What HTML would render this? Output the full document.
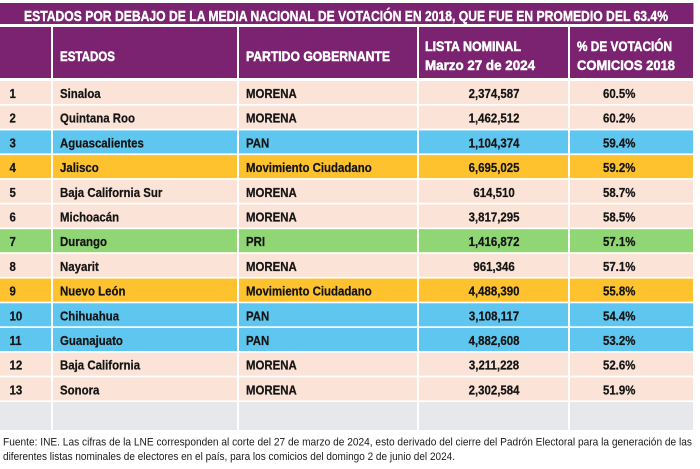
<!DOCTYPE html>
<html>
<head>
<meta charset="utf-8">
<style>
html,body{margin:0;padding:0;background:#fff;}
svg{display:block;}
text{font-family:"Liberation Sans",Arial,sans-serif;}
</style>
</head>
<body>
<svg width="700" height="469" viewBox="0 0 700 469" xmlns="http://www.w3.org/2000/svg">
<rect x="0" y="0" width="700" height="469" fill="#ffffff"/>
<!-- Title -->
<rect x="0" y="3" width="693" height="21" fill="#7b2371"/>
<rect x="693" y="3" width="1" height="21" fill="#b9a3b5"/>
<text x="24" y="21" font-size="15" font-weight="bold" fill="#ffffff" stroke="#ffffff" stroke-width="0.4" textLength="644" lengthAdjust="spacingAndGlyphs">ESTADOS POR DEBAJO DE LA MEDIA NACIONAL DE VOTACIÓN EN 2018, QUE FUE EN PROMEDIO DEL 63.4%</text>
<!-- Header -->
<g fill="#7b2371">
<rect x="0" y="27" width="51" height="51"/>
<rect x="53" y="27" width="184" height="51"/>
<rect x="239" y="27" width="178" height="51"/>
<rect x="419" y="27" width="149" height="51"/>
<rect x="570" y="27" width="123" height="51"/>
</g>
<g fill="#ffffff" stroke="#ffffff" stroke-width="0.5" font-weight="bold" font-size="14">
<text x="60" y="61" textLength="55" lengthAdjust="spacingAndGlyphs">ESTADOS</text>
<text x="246" y="61" textLength="144" lengthAdjust="spacingAndGlyphs">PARTIDO GOBERNANTE</text>
<text x="425" y="51" textLength="96" lengthAdjust="spacingAndGlyphs">LISTA NOMINAL</text>
<text x="425" y="70" textLength="110" lengthAdjust="spacingAndGlyphs">Marzo 27 de 2024</text>
<text x="577" y="51" textLength="95" lengthAdjust="spacingAndGlyphs">% DE VOTACIÓN</text>
<text x="577" y="70" textLength="98" lengthAdjust="spacingAndGlyphs">COMICIOS 2018</text>
</g>
<!-- Rows backgrounds -->
<g>
<g fill="#fbe4d7">
<rect x="0" y="81" width="51" height="23"/><rect x="53" y="81" width="184" height="23"/><rect x="239" y="81" width="178" height="23"/><rect x="419" y="81" width="149" height="23"/><rect x="570" y="81" width="123" height="23"/>
<rect x="0" y="105.7" width="51" height="23"/><rect x="53" y="105.7" width="184" height="23"/><rect x="239" y="105.7" width="178" height="23"/><rect x="419" y="105.7" width="149" height="23"/><rect x="570" y="105.7" width="123" height="23"/>
<rect x="0" y="179.8" width="51" height="23"/><rect x="53" y="179.8" width="184" height="23"/><rect x="239" y="179.8" width="178" height="23"/><rect x="419" y="179.8" width="149" height="23"/><rect x="570" y="179.8" width="123" height="23"/>
<rect x="0" y="204.5" width="51" height="23"/><rect x="53" y="204.5" width="184" height="23"/><rect x="239" y="204.5" width="178" height="23"/><rect x="419" y="204.5" width="149" height="23"/><rect x="570" y="204.5" width="123" height="23"/>
<rect x="0" y="253.9" width="51" height="23"/><rect x="53" y="253.9" width="184" height="23"/><rect x="239" y="253.9" width="178" height="23"/><rect x="419" y="253.9" width="149" height="23"/><rect x="570" y="253.9" width="123" height="23"/>
<rect x="0" y="352.7" width="51" height="23"/><rect x="53" y="352.7" width="184" height="23"/><rect x="239" y="352.7" width="178" height="23"/><rect x="419" y="352.7" width="149" height="23"/><rect x="570" y="352.7" width="123" height="23"/>
<rect x="0" y="377.4" width="51" height="23"/><rect x="53" y="377.4" width="184" height="23"/><rect x="239" y="377.4" width="178" height="23"/><rect x="419" y="377.4" width="149" height="23"/><rect x="570" y="377.4" width="123" height="23"/>
</g>
<g fill="#5fc7ef">
<rect x="0" y="130.4" width="51" height="23"/><rect x="53" y="130.4" width="184" height="23"/><rect x="239" y="130.4" width="178" height="23"/><rect x="419" y="130.4" width="149" height="23"/><rect x="570" y="130.4" width="123" height="23"/>
<rect x="0" y="303.3" width="51" height="23"/><rect x="53" y="303.3" width="184" height="23"/><rect x="239" y="303.3" width="178" height="23"/><rect x="419" y="303.3" width="149" height="23"/><rect x="570" y="303.3" width="123" height="23"/>
<rect x="0" y="328" width="51" height="23"/><rect x="53" y="328" width="184" height="23"/><rect x="239" y="328" width="178" height="23"/><rect x="419" y="328" width="149" height="23"/><rect x="570" y="328" width="123" height="23"/>
</g>
<g fill="#fec22f">
<rect x="0" y="155.1" width="51" height="23"/><rect x="53" y="155.1" width="184" height="23"/><rect x="239" y="155.1" width="178" height="23"/><rect x="419" y="155.1" width="149" height="23"/><rect x="570" y="155.1" width="123" height="23"/>
<rect x="0" y="278.6" width="51" height="23"/><rect x="53" y="278.6" width="184" height="23"/><rect x="239" y="278.6" width="178" height="23"/><rect x="419" y="278.6" width="149" height="23"/><rect x="570" y="278.6" width="123" height="23"/>
</g>
<g fill="#90d674">
<rect x="0" y="229.2" width="51" height="23"/><rect x="53" y="229.2" width="184" height="23"/><rect x="239" y="229.2" width="178" height="23"/><rect x="419" y="229.2" width="149" height="23"/><rect x="570" y="229.2" width="123" height="23"/>
</g>
<g fill="#e7e8eb">
<rect x="0" y="402" width="51" height="28"/><rect x="53" y="402" width="184" height="28"/><rect x="239" y="402" width="178" height="28"/><rect x="419" y="402" width="149" height="28"/><rect x="570" y="402" width="123" height="28"/>
</g>
</g>
<!-- Row text (condensed via scale) -->
<g transform="scale(0.88,1)" font-size="13" font-weight="bold" fill="#151515" stroke="#151515" stroke-width="0.25">
<g>
<text x="10.8" y="98">1</text>
<text x="10.8" y="122.7">2</text>
<text x="10.8" y="147.4">3</text>
<text x="10.8" y="172.1">4</text>
<text x="10.8" y="196.8">5</text>
<text x="10.8" y="221.5">6</text>
<text x="10.8" y="246.2">7</text>
<text x="10.8" y="270.9">8</text>
<text x="10.8" y="295.6">9</text>
<text x="10.8" y="320.3">10</text>
<text x="10.8" y="345">11</text>
<text x="10.8" y="369.7">12</text>
<text x="10.8" y="394.4">13</text>
</g>
<g>
<text x="68.2" y="98">Sinaloa</text>
<text x="68.2" y="122.7">Quintana Roo</text>
<text x="68.2" y="147.4">Aguascalientes</text>
<text x="68.2" y="172.1">Jalisco</text>
<text x="68.2" y="196.8">Baja California Sur</text>
<text x="68.2" y="221.5">Michoacán</text>
<text x="68.2" y="246.2">Durango</text>
<text x="68.2" y="270.9">Nayarit</text>
<text x="68.2" y="295.6">Nuevo León</text>
<text x="68.2" y="320.3">Chihuahua</text>
<text x="68.2" y="345">Guanajuato</text>
<text x="68.2" y="369.7">Baja California</text>
<text x="68.2" y="394.4">Sonora</text>
</g>
<g>
<text x="279.5" y="98">MORENA</text>
<text x="279.5" y="122.7">MORENA</text>
<text x="279.5" y="147.4">PAN</text>
<text x="279.5" y="172.1">Movimiento Ciudadano</text>
<text x="279.5" y="196.8">MORENA</text>
<text x="279.5" y="221.5">MORENA</text>
<text x="279.5" y="246.2">PRI</text>
<text x="279.5" y="270.9">MORENA</text>
<text x="279.5" y="295.6">Movimiento Ciudadano</text>
<text x="279.5" y="320.3">PAN</text>
<text x="279.5" y="345">PAN</text>
<text x="279.5" y="369.7">MORENA</text>
<text x="279.5" y="394.4">MORENA</text>
</g>
<g text-anchor="middle">
<text x="561.4" y="98">2,374,587</text>
<text x="561.4" y="122.7">1,462,512</text>
<text x="561.4" y="147.4">1,104,374</text>
<text x="561.4" y="172.1">6,695,025</text>
<text x="561.4" y="196.8">614,510</text>
<text x="561.4" y="221.5">3,817,295</text>
<text x="561.4" y="246.2">1,416,872</text>
<text x="561.4" y="270.9">961,346</text>
<text x="561.4" y="295.6">4,488,390</text>
<text x="561.4" y="320.3">3,108,117</text>
<text x="561.4" y="345">4,882,608</text>
<text x="561.4" y="369.7">3,211,228</text>
<text x="561.4" y="394.4">2,302,584</text>
</g>
<g>
<text x="685.2" y="98">60.5%</text>
<text x="685.2" y="122.7">60.2%</text>
<text x="685.2" y="147.4">59.4%</text>
<text x="685.2" y="172.1">59.2%</text>
<text x="685.2" y="196.8">58.7%</text>
<text x="685.2" y="221.5">58.5%</text>
<text x="685.2" y="246.2">57.1%</text>
<text x="685.2" y="270.9">57.1%</text>
<text x="685.2" y="295.6">55.8%</text>
<text x="685.2" y="320.3">54.4%</text>
<text x="685.2" y="345">53.2%</text>
<text x="685.2" y="369.7">52.6%</text>
<text x="685.2" y="394.4">51.9%</text>
</g>
</g>
<!-- Footnote -->
<g font-size="11" fill="#1a1a1a">
<text x="3" y="445.5" textLength="689" lengthAdjust="spacingAndGlyphs">Fuente: INE. Las cifras de la LNE corresponden al corte del 27 de marzo de 2024, esto derivado del cierre del Padrón Electoral para la generación de las</text>
<text x="3" y="460" textLength="452" lengthAdjust="spacingAndGlyphs">diferentes listas nominales de electores en el país, para los comicios del domingo 2 de junio del 2024.</text>
</g>
</svg>
</body>
</html>
